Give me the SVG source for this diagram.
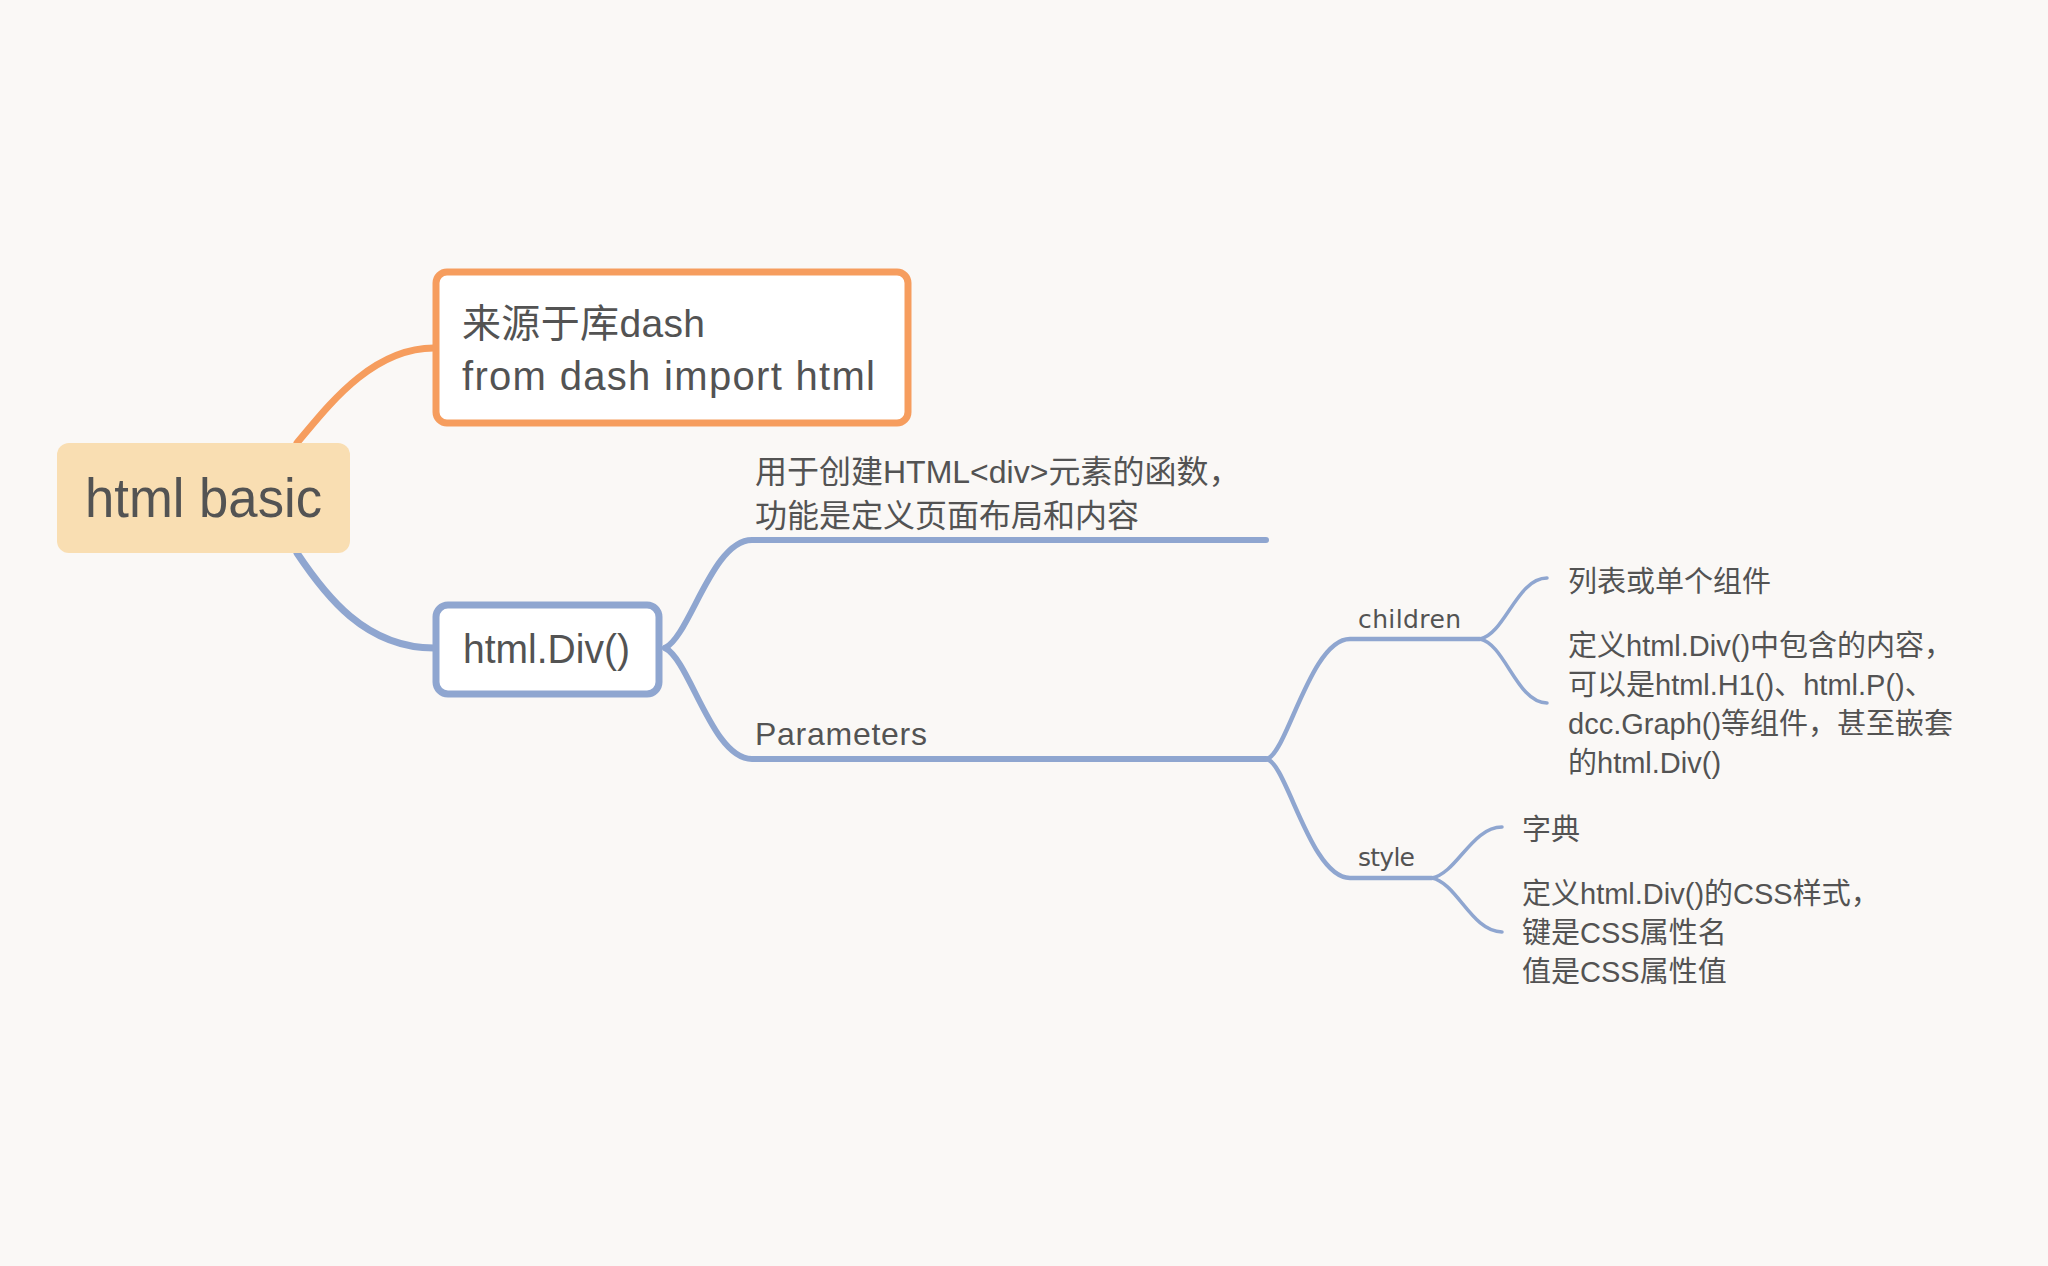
<svg xmlns="http://www.w3.org/2000/svg" width="2048" height="1266" viewBox="0 0 2048 1266">
<style>
.t{font-family:"Liberation Sans","Noto Sans CJK SC",sans-serif;fill:#535353}
.lbl{font-family:"DejaVu Sans","Noto Sans CJK SC",sans-serif;fill:#535353;font-size:25px}
.c{fill:none;stroke-linecap:round;stroke-linejoin:round}
.o{stroke:#F69D5E}
.b{stroke:#8FA6D0}
</style>
<rect width="2048" height="1266" fill="#FAF8F6"/>
<g id="connectors">
<path class="c o" stroke-width="7" d="M297,443 C325,410 370,348 434,348"/>
<path class="c b" stroke-width="7" d="M297,553 C325,595 365,648 434,648"/>
<path class="c b" stroke-width="6" d="M665,648 C690,636 712,540 752,540 L1266,540"/>
<path class="c b" stroke-width="6" d="M665,648 C690,660 712,759 752,759 L1266,759"/>
<path class="c b" stroke-width="4.5" d="M1266,759 C1286,758 1310,639 1350,639 L1480,639"/>
<path class="c b" stroke-width="4.5" d="M1266,759 C1286,760 1310,878 1350,878 L1432,878"/>
<path class="c b" stroke-width="3.5" d="M1480,639 C1505,634 1517,578 1547,578"/>
<path class="c b" stroke-width="3.5" d="M1480,639 C1505,644 1517,703 1547,703"/>
<path class="c b" stroke-width="3.5" d="M1432,878 C1457,873 1472,827 1502,827"/>
<path class="c b" stroke-width="3.5" d="M1432,878 C1457,883 1472,932 1502,932"/>
</g>
<g id="root">
<rect x="57" y="443" width="293" height="110" rx="12" fill="#F9DEB2"/>
<text class="t" x="85" y="517" font-size="55" textLength="237" lengthAdjust="spacingAndGlyphs">html basic</text>
</g>
<g id="source">
<rect x="436" y="272" width="472" height="151" rx="11" fill="#FFFFFF" stroke="#F69D5E" stroke-width="7"/>
<text class="t" x="462" y="337" font-size="39" textLength="243">来源于库dash</text>
<text class="t" x="462" y="390" font-size="40" textLength="413">from dash import html</text>
</g>
<g id="htmldiv">
<rect x="436" y="605" width="223" height="89" rx="12" fill="#FFFFFF" stroke="#8FA6D0" stroke-width="7"/>
<text class="t" x="463" y="663" font-size="41" textLength="167" lengthAdjust="spacingAndGlyphs">html.Div()</text>
</g>
<g id="description">
<text class="t" x="755" y="483" font-size="32">用于创建HTML&lt;div&gt;元素的函数，</text>
<text class="t" x="755" y="527" font-size="32">功能是定义页面布局和内容</text>
</g>
<g id="parameters">
<text class="t" x="755" y="745" font-size="32" textLength="172">Parameters</text>
</g>
<g id="children">
<text class="lbl" x="1358" y="628" textLength="103">children</text>
</g>
<g id="children-type">
<text class="t" x="1568" y="592" font-size="29">列表或单个组件</text>
</g>
<g id="children-desc">
<text class="t" x="1568" y="656" font-size="29">定义html.Div()中包含的内容，</text>
<text class="t" x="1568" y="695" font-size="29">可以是html.H1()、html.P()、</text>
<text class="t" x="1568" y="734" font-size="29">dcc.Graph()等组件，甚至嵌套</text>
<text class="t" x="1568" y="773" font-size="29">的html.Div()</text>
</g>
<g id="style">
<text class="lbl" x="1358" y="866" textLength="57">style</text>
</g>
<g id="style-type">
<text class="t" x="1522" y="840" font-size="29">字典</text>
</g>
<g id="style-desc">
<text class="t" x="1522" y="904" font-size="29">定义html.Div()的CSS样式，</text>
<text class="t" x="1522" y="943" font-size="29">键是CSS属性名</text>
<text class="t" x="1522" y="982" font-size="29">值是CSS属性值</text>
</g>
</svg>
